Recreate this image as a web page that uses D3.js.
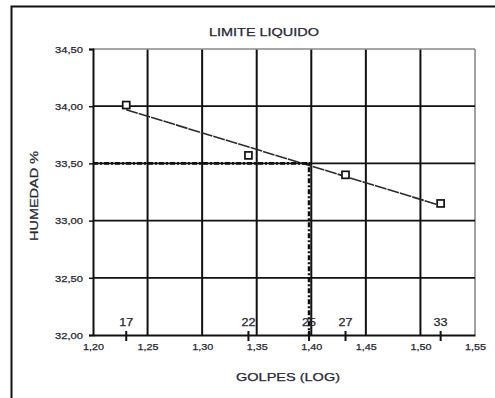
<!DOCTYPE html>
<html>
<head>
<meta charset="utf-8">
<script src="https://cdn.jsdelivr.net/npm/d3@7"></script>
<style>
  html, body { margin: 0; padding: 0; background: #fff; }
  svg { display: block; }
  text { font-family: "Liberation Sans", Arial, sans-serif; fill: #262633; stroke: #262633; stroke-width: 0.25px; }
</style>
</head>
<body>
<svg id="chart" width="495" height="398"></svg>
<script>
// Liquid limit test: blow counts and measured moisture content
const blows = [17, 22, 27, 33];
const moisture = [34.01, 33.57, 33.40, 33.15];
const blowLabels = [17, 22, 25, 27, 33];
const llBlows = 25;
const llMoisture = 33.50;
const xTicks = [1.20, 1.25, 1.30, 1.35, 1.40, 1.45, 1.50, 1.55];
const yTicks = [32.00, 32.50, 33.00, 33.50, 34.00, 34.50];

const svg = d3.select("#chart");
const x = d3.scaleLinear().domain([1.20, 1.55]).range([93, 475]);
const y = d3.scaleLinear().domain([32.00, 34.50]).range([335, 49]);
const comma = v => d3.format(".2f")(v).replace(".", ",");

// outer frame
svg.append("rect")
  .attr("x", 11.5).attr("y", 6.5).attr("width", 600).attr("height", 500)
  .attr("fill", "none").attr("stroke", "#111").attr("stroke-width", 2);

// grid
const grid = svg.append("g");
xTicks.slice(1).forEach(t => {
  const last = t === xTicks[xTicks.length - 1];
  grid.append("line")
    .attr("x1", x(t)).attr("x2", x(t)).attr("y1", y(34.5)).attr("y2", y(32))
    .attr("stroke", last ? "#8a8a8a" : "#111").attr("stroke-width", last ? 1.6 : 2);
});
yTicks.slice(1).forEach(t => {
  const last = t === yTicks[yTicks.length - 1];
  grid.append("line")
    .attr("x1", x(1.20)).attr("x2", x(1.55)).attr("y1", y(t)).attr("y2", y(t))
    .attr("stroke", last ? "#8a8a8a" : "#111").attr("stroke-width", last ? 1.6 : 1.8);
});

// y axis
const yAxis = svg.append("g").attr("transform", `translate(${x(1.20)},0)`)
  .call(d3.axisLeft(y).tickValues(yTicks).tickSize(4).tickFormat(comma));
yAxis.select(".domain").attr("stroke", "#111").attr("stroke-width", 2);
yAxis.selectAll(".tick line").attr("stroke", "#111").attr("stroke-width", 1.5);
yAxis.selectAll(".tick text")
  .attr("x", -10).attr("dy", "0.35em")
  .attr("font-size", 9.5).attr("textLength", 28).attr("lengthAdjust", "spacingAndGlyphs")
  .style("font-family", "Liberation Sans, Arial, sans-serif").style("fill", "#262633");

// x axis with tick labels only (ticks at data positions drawn below)
const xAxis = svg.append("g").attr("transform", `translate(0,${y(32)})`)
  .call(d3.axisBottom(x).tickValues(xTicks).tickSize(0).tickFormat(comma));
xAxis.select(".domain").attr("stroke", "#111").attr("stroke-width", 2);
xAxis.selectAll(".tick text")
  .attr("y", 12).attr("dy", "0.35em")
  .attr("font-size", 9.5).attr("textLength", 21).attr("lengthAdjust", "spacingAndGlyphs")
  .style("font-family", "Liberation Sans, Arial, sans-serif").style("fill", "#262633");

// blow-count marks and labels on the x axis
const marks = svg.append("g");
blowLabels.forEach(n => {
  const px = x(Math.log10(n));
  marks.append("line")
    .attr("x1", px).attr("x2", px).attr("y1", y(32) - 4).attr("y2", y(32) + 6)
    .attr("stroke", "#111").attr("stroke-width", 2);
  marks.append("text")
    .attr("x", px).attr("y", y(32) - 13).attr("dy", "0.35em")
    .attr("text-anchor", "middle").attr("font-size", 11)
    .attr("textLength", 14).attr("lengthAdjust", "spacingAndGlyphs")
    .text(n);
});

// least-squares trend of moisture against log(blows)
const pts = blows.map((b, i) => [Math.log10(b), moisture[i]]);
const mx = d3.mean(pts, p => p[0]), my = d3.mean(pts, p => p[1]);
const slope = d3.sum(pts, p => (p[0] - mx) * (p[1] - my)) / d3.sum(pts, p => (p[0] - mx) ** 2);
const fit = v => my + slope * (v - mx);
const xs = d3.extent(pts, p => p[0]);
svg.append("path")
  .datum(xs.map(v => [v, fit(v)]))
  .attr("d", d3.line().x(d => x(d[0])).y(d => y(d[1])))
  .attr("fill", "none").attr("stroke", "#2a2a2a").attr("stroke-width", 1.6)
  .attr("stroke-dasharray", "12,1");

// liquid limit guide lines
const llx = x(Math.log10(llBlows));
svg.append("path")
  .attr("d", `M${x(1.20)},${y(llMoisture)}H${llx}V${y(32)}`)
  .attr("fill", "none").attr("stroke", "#111").attr("stroke-width", 2.6)
  .attr("stroke-dasharray", "5,2,2,2");

// measured points
svg.append("g").selectAll("rect").data(pts).join("rect")
  .attr("x", d => x(d[0]) - 3.5).attr("y", d => y(d[1]) - 3.5)
  .attr("width", 7).attr("height", 7)
  .attr("fill", "#fff").attr("stroke", "#111").attr("stroke-width", 1.7);

// titles
svg.append("text")
  .attr("x", 264).attr("y", 32).attr("dy", "0.35em").attr("text-anchor", "middle")
  .attr("font-size", 11).attr("textLength", 110).attr("lengthAdjust", "spacingAndGlyphs")
  .text("LIMITE LIQUIDO");
svg.append("text")
  .attr("x", 288).attr("y", 377).attr("dy", "0.35em").attr("text-anchor", "middle")
  .attr("font-size", 11.5).attr("textLength", 104).attr("lengthAdjust", "spacingAndGlyphs")
  .text("GOLPES (LOG)");
svg.append("text")
  .attr("transform", "translate(34,196) rotate(-90)")
  .attr("dy", "0.35em").attr("text-anchor", "middle")
  .attr("font-size", 11.5).attr("textLength", 90).attr("lengthAdjust", "spacingAndGlyphs")
  .text("HUMEDAD %");
</script>
</body>
</html>
